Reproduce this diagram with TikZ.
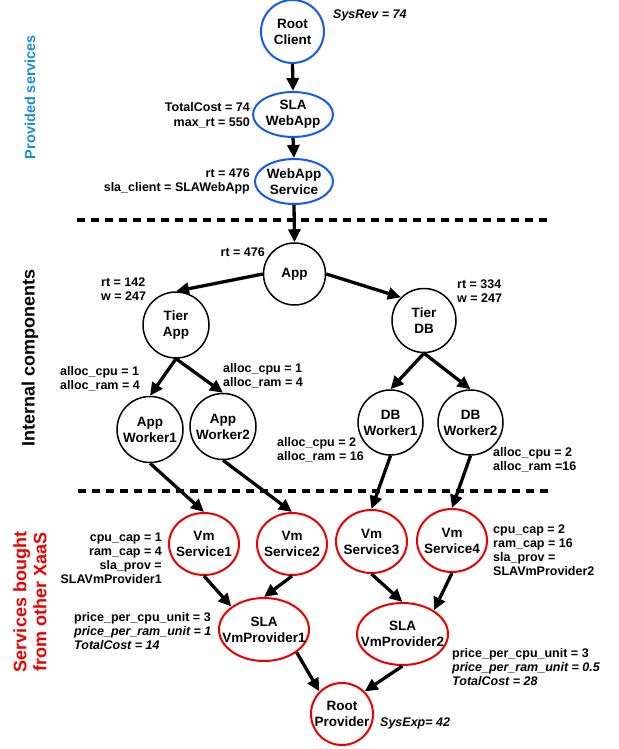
\documentclass[tikz,border=0pt]{standalone}
\usepackage{fontspec}
\setmainfont{Liberation Sans}
\usetikzlibrary{arrows.meta,shapes.geometric}
\definecolor{nblue}{RGB}{20,90,240}
\definecolor{nred}{RGB}{235,0,0}
\definecolor{lblue}{RGB}{25,140,220}
\begin{document}
\begin{tikzpicture}[x=1pt,y=-1pt,
  ntext/.style={font=\fontsize{13.5}{16}\selectfont\bfseries, align=center, inner ysep=0pt, inner xsep=-12pt},
  bcirc/.style={ntext, circle, draw=nblue, line width=2pt, minimum size=#1},
  bell/.style 2 args={ntext, ellipse, draw=nblue, line width=2pt, minimum width=#1, minimum height=#2},
  kcirc/.style={ntext, circle, draw=black, line width=1.5pt, minimum size=#1},
  rcirc/.style={ntext, circle, draw=nred, line width=2pt, minimum size=#1},
  rell/.style 2 args={ntext, ellipse, draw=nred, line width=2pt, minimum width=#1, minimum height=#2},
  arr/.style={line width=3.3pt, -{Triangle[length=13pt,width=12pt]}},
  dline/.style={line width=4pt, dash pattern=on 8pt off 6pt},
  lab/.style={font=\fontsize{12.5}{14}\selectfont\bfseries, inner sep=0pt},
  side/.style={rotate=90, inner sep=0pt, align=center}
]
\useasboundingbox (0,0) rectangle (618,749);

% provided services
\node[bcirc=63] (RC) at (292.5,31.5) {Root\\Client};
\node[bell={80}{45}] (SW) at (293,114.5) {SLA\\WebApp};
\node[bell={78}{45}] (WS) at (294,181.5) {WebApp\\Service};

% internal components
\node[kcirc=62] (App) at (294.5,274) {App};
\node[kcirc=66] (TA) at (176,325) {Tier\\App};
\node[kcirc=64] (TD) at (424,320.5) {Tier\\DB};
\node[kcirc=66] (AW1) at (150,429.5) {App\\Worker1};
\node[kcirc=66] (AW2) at (223,426.5) {App\\Worker2};
\node[kcirc=65] (DW1) at (390.5,422.5) {DB\\Worker1};
\node[kcirc=65] (DW2) at (470.5,422.5) {DB\\Worker2};

% bought services
\node[rell={70}{62}] (VS1) at (204,544) {Vm\\Service1};
\node[rell={70}{62}] (VS2) at (292,544) {Vm\\Service2};
\node[rell={71}{63}] (VS3) at (371.5,541.5) {Vm\\Service3};
\node[rell={70}{63}] (VS4) at (452,540.5) {Vm\\Service4};
\node[rell={90}{63}] (P1) at (264,629.5) {SLA\\VmProvider1};
\node[rell={91}{62}] (P2) at (402.5,634) {SLA\\VmProvider2};
\node[rcirc=62] (RP) at (342,714) {Root\\Provider};

% dashed separators
\coordinate (d1a) at (77,220);
\coordinate (d1b) at (552,220);
\coordinate (d2a) at (78,491);
\coordinate (d2b) at (553,491);
\draw[dline] (d1a) -- (d1b);
\draw[dline] (d2a) -- (d2b);

% arrows
\draw[arr] (RC.south) -- (SW.north);
\draw[arr] (SW.south) -- (WS.north);
\draw[arr] (WS.south) -- (App.north);
\draw[arr] (App.west) -- (TA.north);
\draw[arr] (App.east) -- (TD.north west);
\draw[arr] (TA.south) -- (AW1.north);
\draw[arr] (TA.south) -- (AW2.north);
\draw[arr] (TD.south) -- (DW1.north);
\draw[arr] (TD.south) -- (DW2.north);
\draw[arr] (AW1.south) -- (VS1.north);
\draw[arr] (AW2.south) -- (VS2.north);
\draw[arr] (DW1.south) -- (VS3.north);
\draw[arr] (DW2.south) -- (VS4.north);
\draw[arr] (VS1.south) -- (P1.145);
\draw[arr] (VS2.south) -- (P1.north);
\draw[arr] (VS3.south) -- (P2.north);
\draw[arr] (VS4.south) -- (P2.37);
\draw[arr] (P1.-35) -- (RP.north west);
\draw[arr] (P2.south) -- (RP.north east);

% labels (base anchor = baseline of last line)
\node[lab, anchor=base west] (sysrev) at (333,19) {\itshape SysRev = 74};
\node[lab, anchor=base east, align=right] (tc) at (250,126) {TotalCost = 74\\max\_rt = 550};
\node[lab, anchor=base east, align=right] (rtws) at (250,191) {rt = 476\\sla\_client = SLAWebApp};
\node[lab, anchor=base east] (rtapp) at (265,256) {rt = 476};
\node[lab, anchor=base west, align=left] (rtta) at (101,300) {rt = 142\\w = 247};
\node[lab, anchor=base west, align=left] (rttd) at (457,302) {rt = 334\\w = 247};
\node[lab, anchor=base west, align=left] (al1) at (60,389) {alloc\_cpu = 1\\alloc\_ram = 4};
\node[lab, anchor=base west, align=left] (al2) at (223,386) {alloc\_cpu = 1\\alloc\_ram = 4};
\node[lab, anchor=base west, align=left] (al3) at (277,460) {alloc\_cpu = 2\\alloc\_ram = 16};
\node[lab, anchor=base west, align=left] (al4) at (493,470) {alloc\_cpu = 2\\alloc\_ram =16};
\node[lab, anchor=base east, align=right] (cap1) at (162,583) {cpu\_cap = 1\\ram\_cap = 4\\sla\_prov = \\SLAVmProvider1};
\node[lab, anchor=base west, align=left] (pr1) at (74,649) {price\_per\_cpu\_unit = 3\\\itshape price\_per\_ram\_unit = 1\\\itshape TotalCost = 14};
\node[lab, anchor=base west, align=left] (cap2) at (493,575) {cpu\_cap = 2\\ram\_cap = 16\\sla\_prov =\\SLAVmProvider2};
\node[lab, anchor=base west, align=left] (pr2) at (452,685) {price\_per\_cpu\_unit = 3\\\itshape price\_per\_ram\_unit = 0.5\\\itshape TotalCost = 28};
\node[lab, anchor=base west] (sysexp) at (380,726) {\itshape SysExp= 42};

% side titles
\node[side, font=\fontsize{14.5}{17}\selectfont\bfseries, text=lblue] (s1) at (30,97) {Provided services};
\node[side, font=\fontsize{18}{20}\selectfont\bfseries] (s2) at (30,358) {Internal components};
\node[side, font=\fontsize{18}{20}\selectfont\bfseries, text=nred] (s3) at (30,602) {Services bought\\from other XaaS};
\end{tikzpicture}
\end{document}
